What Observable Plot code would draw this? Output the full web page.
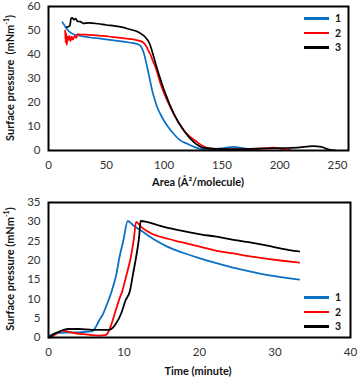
<!DOCTYPE html>
<html>
<head>
<meta charset="utf-8">
<script src="https://cdn.jsdelivr.net/npm/d3@7"></script>
<script src="https://cdn.jsdelivr.net/npm/@observablehq/plot@0.6"></script>
<style>
  body { margin: 0; background: #fff; }
  #wrap { position: relative; width: 360px; height: 377px; font-family: Lato, "Open Sans", sans-serif; }
  #wrap svg { display: block; }
  .leg { position: absolute; font: bold 10.5px Lato, sans-serif; color: #111; }
  .leg .row { position: absolute; left: 0; width: 50px; height: 14px; }
  .leg .ln { position: absolute; left: 0; top: 6px; width: 25px; height: 2.5px; }
  .leg .lb { position: absolute; left: 31px; top: 0px; line-height: 14px; }
</style>
</head>
<body>
<div id="wrap"></div>
<script>
// ---- Data ----
const seriesNames = ["1", "2", "3"];
const seriesColors = ["#0a70c4", "#ff0000", "#000000"];

// Top chart: Area (Å²/molecule) vs surface pressure (mN/m)
const isoArea1 = [12,14,16,20,26,35,45,58,70,78,80.5,82.5,85,87.5,89.7,92,94,97,99.8,104,108.4,114,120,126,131.5,140,150,160,168,175,181];
const isoPres1 = [53.5,52,50.5,48.8,47.9,47.2,46.6,45.8,45,44.2,43,40.5,35.5,30,25,21,18,15,12.5,9.5,6.9,4.2,2.8,1.5,0.7,0.6,0.9,1.5,1,0.5,0.2];
const isoArea2 = [14.4,14.8,15.2,15.8,16.5,17.2,18,19,20,21,22.5,24,25,28,35,45,52,60,70,78,82,84.5,86.5,88.2,90.5,92.6,96.9,102.7,109.9,118.5,128.6,133,137.3,145,160,175,190,195,200,209];
const isoPres2 = [50,45,49,44,47.5,46,47.8,45.5,47.5,46.2,47.8,46.8,48.5,48.3,48.2,47.8,47.5,47,46.5,45.8,45,43.5,41.5,40,37,34.7,27.8,20.8,13.9,7.6,3.5,2,1.1,0.6,0.5,0.6,1,1.2,0.8,0.3];
const isoArea3 = [15.8,17,18.5,19.5,20.5,22,23.5,25,27.4,30,35,43,50,57,63.4,70,78,82,85,87.5,89.4,92.3,95.4,101.2,108.4,117,125.7,130,134.3,145,160,180,200,215,229,236,241,248];
const isoPres3 = [51.4,51.6,52,55,55.3,54.5,55,53.8,53.7,53,53.2,52.8,52.3,51.9,51.4,50.5,49.3,48,46.5,44.5,41.7,36.8,31.9,23.6,15.3,8.3,3.5,2,1.1,0.7,0.6,0.8,1,1.2,1.8,1.5,0.6,0.1];

// Bottom chart: Time (minute) vs surface pressure (mN/m)
const time1 = [0,0.2,0.8,1.3,2.5,4.4,5.8,6.2,6.7,7.2,7.6,8.4,9,9.4,9.9,10.5,11.2,12.5,14,15.8,17.6,20.3,22,24.3,26.5,28.7,31,33.2];
const pres1 = [0,0.5,0.9,1.2,1.3,1.4,1.6,2.5,4.4,6,7.9,12.2,16.5,20.8,25,30.2,29.1,27.4,25.4,23.5,22.1,20.4,19.4,18.2,17.2,16.3,15.6,15];
const time2 = [0.3,0.7,1.2,1.8,2.5,3.6,5,6.7,7.5,7.8,8.2,8.9,9.3,9.8,10.3,10.9,11.3,11.6,12.3,13.5,15.8,17.6,20.3,22,24.5,26.5,29,31,33.2];
const pres2 = [0,0.5,1.2,1.8,1.5,1.1,0.8,0.5,0.6,1,2.7,7,9.5,12.2,16,20.8,25.5,30,28.6,27.1,25.6,24.7,23.4,22.6,21.8,21.1,20.4,19.9,19.4];
const time3 = [0.2,0.4,1.3,2,2.7,4,5.8,7,8,8.5,8.9,9.6,10.2,10.8,11.2,11.6,12,12.2,13,14.5,15.8,17.6,20.3,22,24,26.5,29,31,33.2];
const pres3 = [0,0.5,1.4,2,2.2,2.2,2,2,2,2.5,3.5,6.1,9.6,12.2,16.5,20.8,26,30.2,30,29.1,28.4,27.7,26.7,26.2,25.5,24.7,23.8,23,22.3];

const areaTicks = [0,50,100,150,200,250];
const isoPresTicks = [0,10,20,30,40,50,60];
const timeTicks = [0,10,20,30,40];
const timePresTicks = [0,5,10,15,20,25,30,35];

// ---- Build tables ----
function table(xs, ys, name) { return xs.map((x, i) => ({x, y: ys[i], s: name})); }
const isoData = [
  ...table(isoArea1, isoPres1, "1"),
  ...table(isoArea2, isoPres2, "2"),
  ...table(isoArea3, isoPres3, "3")
];
const timeData = [
  ...table(time1, pres1, "1"),
  ...table(time2, pres2, "2"),
  ...table(time3, pres3, "3")
];

const font = {fontFamily: "Lato, 'Open Sans', sans-serif", fontSize: "11.5px", color: "#333", background: "#fff"};
const colorScale = {domain: seriesNames, range: seriesColors};

const topChart = Plot.plot({
  width: 360, height: 190,
  marginLeft: 48, marginRight: 12, marginTop: 6, marginBottom: 40,
  style: font,
  color: colorScale,
  x: {domain: [0, 259.5], ticks: areaTicks, tickSize: 0, tickPadding: 10, label: null},
  y: {domain: [0, 60], ticks: isoPresTicks, tickSize: 0, tickPadding: 8, label: null},
  marks: [
    Plot.line(isoData, {x: "x", y: "y", z: "s", stroke: "s", strokeWidth: 1.7, curve: "monotone-x"}),
    Plot.frame({stroke: "#000", strokeWidth: 2})
  ]
});

const bottomChart = Plot.plot({
  width: 360, height: 187,
  marginLeft: 48, marginRight: 10, marginTop: 12, marginBottom: 40,
  style: font,
  color: colorScale,
  x: {domain: [0, 40], ticks: timeTicks, tickSize: 0, tickPadding: 10, label: null},
  y: {domain: [0, 35], ticks: timePresTicks, tickSize: 0, tickPadding: 8, label: null},
  marks: [
    Plot.line(timeData, {x: "x", y: "y", z: "s", stroke: "s", strokeWidth: 1.8, curve: "monotone-x"}),
    Plot.frame({stroke: "#000", strokeWidth: 2})
  ]
});

const wrap = document.getElementById("wrap");
wrap.appendChild(topChart);
wrap.appendChild(bottomChart);

// axis titles (HTML overlay)
function addText(txt, x, y, rotate) {
  const d = document.createElement("div");
  d.innerHTML = txt;
  d.style.cssText = `position:absolute;left:${x}px;top:${y}px;font:bold 11px Lato, sans-serif;color:#111;white-space:nowrap;transform:translate(-50%,-50%)${rotate ? " rotate(-90deg)" : ""};`;
  wrap.appendChild(d);
}
addText("Area (Å²/molecule)", 198, 181, false);
addText("Surface pressure&nbsp;&nbsp;(mNm<sup style='font-size:7px'>-1</sup>)", 9, 78, true);
addText("Time (minute)", 198, 370, false);
addText("Surface pressure (mNm<sup style='font-size:7px'>-1</sup>)", 9, 269, true);

// legends
function addLegend(left, topY) {
  const lg = document.createElement("div");
  lg.className = "leg";
  lg.style.left = left + "px";
  lg.style.top = topY + "px";
  seriesNames.forEach((n, i) => {
    const r = document.createElement("div");
    r.className = "row";
    r.style.top = (i * 14.5) + "px";
    r.innerHTML = `<div class="ln" style="background:${seriesColors[i]}"></div><div class="lb">${n}</div>`;
    lg.appendChild(r);
  });
  wrap.appendChild(lg);
}
addLegend(304, 11);
addLegend(304, 290);
</script>
</body>
</html>
